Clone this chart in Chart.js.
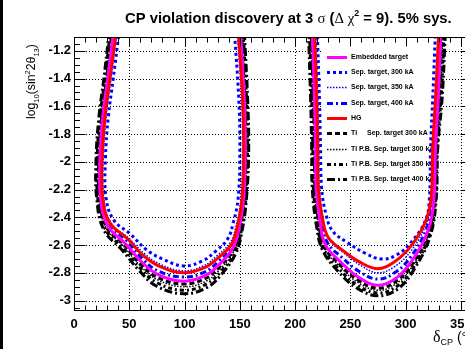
<!DOCTYPE html>
<html><head><meta charset="utf-8">
<script src="https://cdn.jsdelivr.net/npm/chart.js@4.4.1/dist/chart.umd.min.js"></script>
<style>
html,body{margin:0;padding:0;background:#fff;overflow:hidden;width:465px;height:349px}
#wrap{position:relative;width:480px;height:349px}
#strip{position:absolute;left:0;top:0;width:3px;height:349px;background:#000}
</style></head><body>
<div id="wrap"><canvas id="c" width="480" height="349"></canvas><div id="strip"></div></div>
<script>
// ---- axes ----
const xTickValues = [0, 50, 100, 150, 200, 250, 300, 350];
const yTickValues = [-3, -2.8, -2.6, -2.4, -2.2, -2, -1.8, -1.6, -1.4, -1.2];
const xRange = [0, 360];
const yRange = [-3.075, -1.1];

// ---- series: [deltaCP (deg), log10(sin^2 2theta13)] ----
const hg_dip1 = [[38.5,-1.05],[32.5,-1.40],[28,-1.68],[25.5,-1.97],[26,-2.26],[32.5,-2.44],[48.5,-2.555],[62.5,-2.675],[78,-2.755],[99,-2.80],[117.5,-2.765],[130.5,-2.69],[142,-2.60],[147.5,-2.475],[152,-2.26],[153.5,-1.90],[152.5,-1.54],[148.5,-1.05]];
const hg_dip2 = [[217.5,-1.05],[219.5,-1.54],[220.5,-1.90],[221,-2.19],[224.5,-2.40],[230,-2.545],[243.5,-2.64],[259,-2.725],[274.5,-2.77],[289,-2.725],[304,-2.615],[317.5,-2.44],[323,-2.26],[324.5,-1.90],[327,-1.54],[330,-1.05]];

const embedded_dip1 = [[36,-1.05],[30.5,-1.40],[26,-1.68],[23.5,-1.97],[24,-2.26],[30.5,-2.46],[46.5,-2.59],[61,-2.72],[76.5,-2.815],[99,-2.86],[118.5,-2.82],[132,-2.735],[143.5,-2.625],[149,-2.49],[153.5,-2.26],[155,-1.90],[154,-1.54],[150.5,-1.05]];
const embedded_dip2 = [[215.5,-1.05],[217.5,-1.54],[218.5,-1.90],[219,-2.19],[222.5,-2.43],[227.5,-2.60],[241,-2.72],[257,-2.83],[274.5,-2.89],[291,-2.84],[306,-2.71],[320,-2.50],[325.5,-2.27],[327,-1.90],[329.5,-1.54],[332,-1.05]];

const sep300_dip1 = [[41,-1.05],[35.5,-1.40],[31,-1.68],[28.5,-1.97],[29,-2.26],[36,-2.42],[51,-2.52],[65,-2.63],[80,-2.70],[99,-2.75],[116,-2.715],[128,-2.645],[139,-2.555],[144,-2.44],[148.5,-2.26],[150,-1.90],[149,-1.54],[145,-1.05]];
const sep300_dip2 = [[220,-1.05],[222,-1.54],[223,-1.90],[224,-2.19],[228,-2.38],[234,-2.50],[247,-2.58],[262.5,-2.655],[278,-2.70],[292,-2.67],[306,-2.57],[318,-2.42],[321.5,-2.26],[322.5,-1.90],[324.5,-1.54],[327,-1.05]];

const sep350_dip1 = [[39,-1.05],[33.5,-1.40],[29,-1.68],[26.5,-1.97],[27,-2.26],[33.5,-2.44],[49.5,-2.55],[63.5,-2.66],[78.5,-2.74],[99,-2.785],[117,-2.75],[129.5,-2.675],[141,-2.585],[146.5,-2.465],[151,-2.26],[152.5,-1.90],[151.5,-1.54],[147.5,-1.05]];
const sep350_dip2 = [[218.5,-1.05],[220.5,-1.54],[221.5,-1.90],[222,-2.19],[225.5,-2.41],[231,-2.56],[244.5,-2.66],[260,-2.75],[275,-2.80],[290,-2.755],[305,-2.64],[318.5,-2.45],[323.5,-2.26],[325,-1.90],[327.5,-1.54],[329.5,-1.05]];

const sep400_dip1 = [[37.5,-1.05],[32,-1.40],[27.5,-1.68],[25,-1.97],[25.5,-2.26],[32,-2.45],[48,-2.57],[62,-2.70],[77,-2.79],[99,-2.83],[118,-2.795],[131,-2.715],[142.5,-2.615],[148,-2.485],[152.5,-2.26],[154,-1.90],[153,-1.54],[149,-1.05]];
const sep400_dip2 = [[217,-1.05],[219,-1.54],[220,-1.90],[220.5,-2.19],[224,-2.42],[229,-2.58],[242.5,-2.69],[258,-2.79],[274.5,-2.845],[290,-2.80],[305,-2.68],[319,-2.48],[324.5,-2.27],[326,-1.90],[328.5,-1.54],[331,-1.05]];

const ti_dip1 = [[34.5,-1.05],[29.5,-1.40],[25,-1.68],[22.5,-1.97],[23,-2.26],[29.5,-2.47],[45.5,-2.60],[60,-2.735],[76,-2.835],[99,-2.88],[119,-2.84],[132.5,-2.75],[144,-2.635],[149.5,-2.50],[154,-2.26],[155.5,-1.90],[154.5,-1.54],[151.5,-1.05]];
const ti_dip2 = [[214.5,-1.05],[216.5,-1.54],[217.5,-1.90],[218,-2.19],[221.5,-2.44],[226.5,-2.61],[240.5,-2.74],[256.5,-2.85],[274.5,-2.91],[291.5,-2.86],[306.5,-2.73],[320.5,-2.51],[326,-2.27],[327.5,-1.90],[330.5,-1.54],[333,-1.05]];

const tipb300_dip1 = [[34,-1.05],[29,-1.40],[24.5,-1.68],[22,-1.97],[22.5,-2.26],[29,-2.475],[45,-2.61],[59.5,-2.745],[75.5,-2.85],[99,-2.90],[119.5,-2.86],[133,-2.765],[144.5,-2.645],[150,-2.505],[154.5,-2.26],[156,-1.90],[155,-1.54],[152,-1.05]];
const tipb300_dip2 = [[214,-1.05],[216,-1.54],[217,-1.90],[217.5,-2.19],[221,-2.45],[226,-2.62],[240,-2.75],[256,-2.865],[274.5,-2.925],[292,-2.875],[307,-2.74],[321,-2.52],[326.5,-2.27],[328,-1.90],[331,-1.54],[334,-1.05]];

const tipb350_dip1 = [[33,-1.05],[28,-1.40],[23.5,-1.68],[21,-1.97],[21.5,-2.26],[28,-2.48],[44.5,-2.625],[59,-2.76],[75,-2.87],[99,-2.925],[120,-2.88],[134,-2.78],[145.5,-2.655],[151,-2.51],[155.5,-2.26],[157,-1.90],[156,-1.54],[153,-1.05]];
const tipb350_dip2 = [[213,-1.05],[215,-1.54],[216,-1.90],[216.5,-2.19],[220.5,-2.46],[225.5,-2.63],[239.5,-2.77],[255.5,-2.885],[274.5,-2.945],[292.5,-2.895],[307.5,-2.755],[321.5,-2.53],[327,-2.27],[328.5,-1.90],[332,-1.54],[335,-1.05]];

const tipb400_dip1 = [[32,-1.05],[27,-1.40],[22.5,-1.68],[20,-1.97],[20.5,-2.26],[27,-2.49],[44,-2.64],[58.5,-2.78],[74.5,-2.895],[99,-2.95],[120.5,-2.905],[134.5,-2.80],[146,-2.665],[151.5,-2.52],[156,-2.26],[158,-1.90],[157,-1.54],[154,-1.05]];
const tipb400_dip2 = [[212,-1.05],[214,-1.54],[215,-1.90],[215.5,-2.19],[219.5,-2.47],[225,-2.64],[239,-2.79],[255,-2.905],[274.5,-2.965],[293,-2.915],[308,-2.77],[322,-2.54],[327.5,-2.28],[329,-1.90],[333,-1.54],[336,-1.05]];

// drawn first in this list = on top
const seriesList = [
  {label:'HG', d1:hg_dip1, d2:hg_dip2, color:'#ff0000', width:3, dash:[]},
  {label:'Embedded target', d1:embedded_dip1, d2:embedded_dip2, color:'#ff00ff', width:3, dash:[]},
  {label:'Sep. target, 300 kA', d1:sep300_dip1, d2:sep300_dip2, color:'#0000ff', width:3, dash:[3,3]},
  {label:'Sep. target, 350 kA', d1:sep350_dip1, d2:sep350_dip2, color:'#0000ff', width:1.5, dash:[1.5,1.5]},
  {label:'Sep. target, 400 kA', d1:sep400_dip1, d2:sep400_dip2, color:'#0000ff', width:3, dash:[6,3,2,3]},
  {label:'Ti     Sep. target 300 kA', d1:ti_dip1, d2:ti_dip2, color:'#000000', width:3, dash:[5,3]},
  {label:'Ti P.B. Sep. target 300 kA', d1:tipb300_dip1, d2:tipb300_dip2, color:'#000000', width:1.5, dash:[1.5,1.5]},
  {label:'Ti P.B. Sep. target 350 kA', d1:tipb350_dip1, d2:tipb350_dip2, color:'#000000', width:3, dash:[4,3,2,3]},
  {label:'Ti P.B. Sep. target 400 kA', d1:tipb400_dip1, d2:tipb400_dip2, color:'#000000', width:3, dash:[8,3,2,3]}
];
const legendOrder = ['Embedded target','Sep. target, 300 kA','Sep. target, 350 kA','Sep. target, 400 kA','HG',
  'Ti     Sep. target 300 kA','Ti P.B. Sep. target 300 kA','Ti P.B. Sep. target 350 kA','Ti P.B. Sep. target 400 kA'];

const datasets = [];
seriesList.forEach(s => {
  [s.d1, s.d2].forEach(d => datasets.push({
    label: s.label,
    data: d.map(p => ({x: p[0], y: p[1]})),
    showLine: true, pointRadius: 0, pointHoverRadius: 0, fill: false,
    borderColor: s.color, borderWidth: s.width, borderDash: s.dash,
    tension: 0.4, clip: 0
  }));
});

const SANS = "'Liberation Sans', Arial, sans-serif";
const SERIF = "'Liberation Serif', 'Times New Roman', serif";

function segWidth(ctx, segs){ let w=0; segs.forEach(s=>{ctx.font=s.f; w+=ctx.measureText(s.t).width;}); return w; }
function drawSegs(ctx, segs, x0, base){ let x=x0; segs.forEach(s=>{ctx.font=s.f; ctx.fillText(s.t, x, base+(s.dy||0)); x+=ctx.measureText(s.t).width;}); }

const decor = {
  id: 'decor',
  beforeDatasetsDraw(chart){
    const {ctx, chartArea:a, scales:{x, y}} = chart;
    ctx.save();
    ctx.strokeStyle = '#000'; ctx.lineWidth = 1; ctx.setLineDash([1,2]);
    ctx.beginPath();
    xTickValues.forEach(v => { if (v === 0) return; const px = Math.round(x.getPixelForValue(v)) + 0.5; ctx.moveTo(px, a.top); ctx.lineTo(px, a.bottom); });
    yTickValues.forEach(v => { const py = Math.round(y.getPixelForValue(v)) + 0.5; ctx.moveTo(a.left, py); ctx.lineTo(a.right, py); });
    ctx.stroke();
    ctx.setLineDash([]);
    // legend
    ctx.fillStyle = '#fff';
    ctx.fillRect(322, 46, 116, 142);
    const y0 = 56.7, dy = 15.3;
    legendOrder.forEach((lab, i) => {
      const s = seriesList.find(q => q.label === lab);
      const yy = Math.round(y0 + i*dy) + 0.5;
      ctx.strokeStyle = s.color; ctx.lineWidth = s.width; ctx.setLineDash(s.dash);
      ctx.beginPath(); ctx.moveTo(327, yy); ctx.lineTo(347, yy); ctx.stroke();
      ctx.setLineDash([]);
      ctx.fillStyle = '#000'; ctx.font = "bold 7px " + SANS; ctx.textBaseline = 'middle'; ctx.textAlign = 'left';
      const parts = lab.split(/\s{3,}/);
      if (parts.length > 1) { ctx.fillText(parts[0], 351, yy); ctx.fillText(parts[1], 367, yy); }
      else ctx.fillText(lab, 351, yy);
    });
    ctx.restore();
  },
  afterDatasetsDraw(chart){
    const {ctx, chartArea:a, scales:{x, y}} = chart;
    ctx.save();
    ctx.strokeStyle = '#000'; ctx.lineWidth = 1; ctx.setLineDash([]);
    const L = Math.round(a.left)+0.5, R = Math.round(a.right)-0.5, T = Math.round(a.top)+0.5, B = Math.round(a.bottom)-0.5;
    ctx.strokeRect(L, T, R-L, B-T);
    ctx.beginPath();
    for (let v = xRange[0]+10; v < xRange[1]; v += 10) {
      const px = Math.round(x.getPixelForValue(v)) + 0.5;
      const len = (v % 50 === 0) ? 9 : 5;
      ctx.moveTo(px, B); ctx.lineTo(px, B-len);
      ctx.moveTo(px, T); ctx.lineTo(px, T+len);
    }
    for (let k = -61; k <= -23; k++) {
      const v = k*0.05;
      if (v < yRange[0] || v > yRange[1]) continue;
      const py = Math.round(y.getPixelForValue(v)) + 0.5;
      const len = (k % 4 === 0) ? 11 : 5.5;
      ctx.moveTo(L, py); ctx.lineTo(L+len, py);
      ctx.moveTo(R, py); ctx.lineTo(R-len, py);
    }
    ctx.stroke();
    ctx.restore();
  },
  afterDraw(chart){
    const ctx = chart.ctx;
    ctx.save();
    ctx.fillStyle = '#000'; ctx.textAlign = 'left'; ctx.textBaseline = 'alphabetic';
    // title
    const tSegs = s => [
      {t:'CP violation discovery at 3 ', f:`bold ${s}px ${SANS}`},
      {t:'\u03C3', f:`${s}px ${SERIF}`},
      {t:' (', f:`bold ${s}px ${SANS}`},
      {t:'\u0394 \u03C7', f:`${s}px ${SERIF}`},
      {t:'2', f:`bold ${(s*0.6).toFixed(1)}px ${SANS}`, dy:-s*0.45},
      {t:' = 9). 5% sys.', f:`bold ${s}px ${SANS}`}
    ];
    let s = 15; s = s * 327 / segWidth(ctx, tSegs(s));
    drawSegs(ctx, tSegs(s), 125, 22.5);
    // y title
    const ySegs = s => [
      {t:'log', f:`${s}px ${SANS}`},
      {t:'10', f:`${(s*0.62).toFixed(1)}px ${SANS}`, dy:s*0.3},
      {t:'(sin', f:`${s}px ${SANS}`},
      {t:'2', f:`${(s*0.62).toFixed(1)}px ${SANS}`, dy:-s*0.42},
      {t:'2\u03B8', f:`${s}px ${SANS}`},
      {t:'13', f:`${(s*0.62).toFixed(1)}px ${SANS}`, dy:s*0.3},
      {t:')', f:`${s}px ${SANS}`}
    ];
    let ys = 14; ys = ys * 75 / segWidth(ctx, ySegs(ys));
    ctx.save(); ctx.translate(35, 119); ctx.rotate(-Math.PI/2);
    drawSegs(ctx, ySegs(ys), 0, 0);
    ctx.restore();
    // x title
    drawSegs(ctx, [
      {t:'\u03B4', f:`16px ${SERIF}`},
      {t:'CP', f:`9px ${SANS}`, dy:3},
      {t:' (\u00B0)', f:`14px ${SANS}`}
    ], 433, 342);
    ctx.restore();
  }
};

new Chart(document.getElementById('c'), {
  type: 'scatter',
  data: { datasets },
  options: {
    responsive: false, animation: false, devicePixelRatio: 1,
    layout: { padding: { left: 0, top: 37, right: 8, bottom: 0 } },
    plugins: { legend: { display: false }, title: { display: false }, tooltip: { enabled: false } },
    events: [],
    scales: {
      x: {
        type: 'linear', min: xRange[0], max: xRange[1],
        grid: { display: false, drawTicks: false }, border: { display: false },
        ticks: { stepSize: 50, color: '#000', padding: 6, maxRotation: 0, autoSkip: false,
                 font: { family: SANS, weight: 'bold', size: 13 } },
        afterBuildTicks: sc => { sc.ticks = xTickValues.map(v => ({value: v})); },
        afterFit: sc => { sc.height = 38; }
      },
      y: {
        type: 'linear', min: yRange[0], max: yRange[1],
        grid: { display: false, drawTicks: false }, border: { display: false },
        ticks: { stepSize: 0.2, color: '#000', padding: 3, autoSkip: false,
                 font: { family: SANS, weight: 'bold', size: 13 },
                 callback: v => String(Number(Number(v).toFixed(1))) },
        afterBuildTicks: sc => { sc.ticks = yTickValues.map(v => ({value: v})); },
        afterFit: sc => { sc.width = 74; }
      }
    }
  },
  plugins: [decor]
});
</script></body></html>
